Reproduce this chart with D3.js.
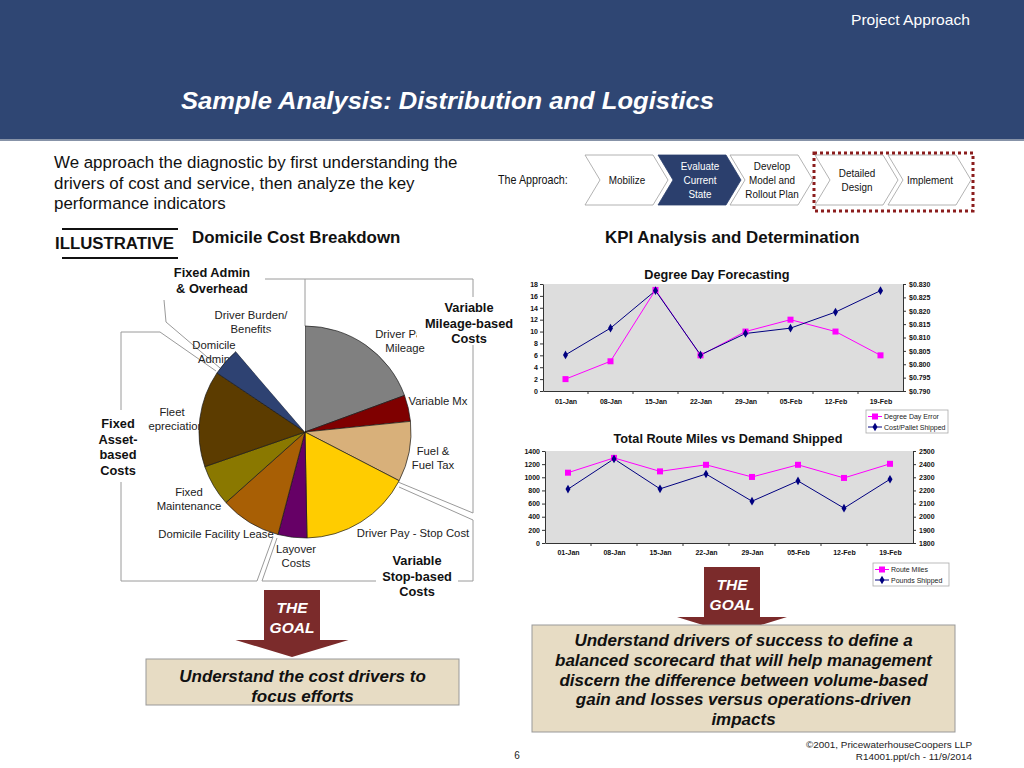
<!DOCTYPE html>
<html>
<head>
<meta charset="utf-8">
<script src="https://cdn.jsdelivr.net/npm/d3@7"></script>
<style>
body { margin: 0; background: #fff; }
svg { display: block; font-family: Arial, "Liberation Sans", sans-serif; }
</style>
</head>
<body>
<svg id="canvas" width="1024" height="768"></svg>
<script>
// pie data - share of domicile cost, clockwise from 12 o'clock
let cost_labels = ['Driver Pay - Mileage', 'Variable Mx', 'Fuel & Fuel Tax', 'Driver Pay - Stop Cost', 'Layover Costs',
    'Domicile Facility Lease', 'Fixed Maintenance', 'Fleet Depreciation', 'Domicile Admin', 'Driver Burden/ Benefits']
let cost_shares = [19.4, 4.0, 9.2, 17.1, 4.4, 9.3, 6.3, 14.7, 4.3, 11.3]
let cost_colors = ['#808080', '#7f0000', '#d8b07a', '#ffcc00', '#660066', '#a85f05', '#8a7800', '#5c3c00', '#2e4272', '#ffffff']

// KPI charts
let weeks = ['01-Jan', '08-Jan', '15-Jan', '22-Jan', '29-Jan', '05-Feb', '12-Feb', '19-Feb']
let degree_day_error = [2, 5, 17, 6, 10, 12, 10, 6]
let cost_per_pallet = [0.8035, 0.8135, 0.8275, 0.8035, 0.8115, 0.8135, 0.8195, 0.8275]
let route_miles = [1070, 1295, 1090, 1190, 1005, 1190, 990, 1205]
let pounds_shipped = [2210, 2440, 2212, 2325, 2118, 2272, 2065, 2285]
let dd_ticks = [0, 2, 4, 6, 8, 10, 12, 14, 16, 18]
let cost_ticks = [0.790, 0.795, 0.800, 0.805, 0.810, 0.815, 0.820, 0.825, 0.830]
let miles_ticks = [0, 200, 400, 600, 800, 1000, 1200, 1400]
let pounds_ticks = [1800, 1900, 2000, 2100, 2200, 2300, 2400, 2500]

let steps = ['Mobilize', 'Evaluate\nCurrent\nState', 'Develop\nModel and\nRollout Plan', 'Detailed\nDesign', 'Implement']

let canvas = d3.select('#canvas')
let narrow = '"Liberation Sans Narrow", "Arial Narrow", Arial, sans-serif'

// condensed text: squeeze horizontally since no narrow font is guaranteed
let narrowText = (parent, x, y, lines, size, lh, fill, anchor) => {
    let g = parent.append('g').attr('transform', `translate(${x},${y}) scale(0.86,1)`)
    let t = g.append('text').attr('text-anchor', anchor).attr('font-size', size).attr('fill', fill)
    lines.forEach((l, j) => t.append('tspan').attr('x', 0).attr('y', (j - (lines.length - 1) / 2) * lh).text(l))
    return t
}

// ---------- header ----------
canvas.append('rect').attr('x', 0).attr('y', 0).attr('width', 1024).attr('height', 139).attr('fill', '#2f4673')
canvas.append('rect').attr('x', 0).attr('y', 139).attr('width', 1024).attr('height', 2).attr('fill', '#8793a8')
canvas.append('text').attr('x', 970).attr('y', 25).attr('text-anchor', 'end')
    .attr('font-family', narrow).attr('font-size', 15).attr('fill', '#fff')
    .attr('textLength', 119).attr('lengthAdjust', 'spacingAndGlyphs')
    .text('Project Approach')
canvas.append('text').attr('x', 181).attr('y', 109)
    .attr('font-family', narrow).attr('font-size', 24).attr('font-weight', 'bold').attr('font-style', 'italic').attr('fill', '#fff')
    .attr('textLength', 533).attr('lengthAdjust', 'spacingAndGlyphs')
    .text('Sample Analysis: Distribution and Logistics')

// ---------- intro ----------
let intro = ['We approach the diagnostic by first understanding the', 'drivers of cost and service, then analyze the key', 'performance indicators']
canvas.append('g').selectAll('text').data(intro).enter().append('text')
    .attr('x', 54).attr('y', (d, i) => 168 + i * 20.5)
    .attr('font-size', 16.9).attr('fill', '#111')
    .text(d => d)

// ---------- approach chevrons ----------
narrowText(canvas, 498, 184, ['The Approach:'], 12.5, 14, '#111', 'start')
let chev_x = d3.scaleOrdinal().domain(steps).range([585, 658, 730, 815, 888])
let chev = (x) => {
    let y0 = 155, y1 = 205, yc = 180, w = 68, d = 15
    return [[x, y0], [x + w, y0], [x + w + d, yc], [x + w, y1], [x, y1], [x + d, yc]].map(p => p.join(',')).join(' ')
}
let chevG = canvas.append('g')
steps.forEach((s, i) => {
    let active = i === 1
    chevG.append('polygon').attr('points', chev(chev_x(s)))
        .attr('fill', active ? '#2b3f6d' : '#fff').attr('stroke', active ? '#2b3f6d' : '#a0a0a0').attr('stroke-width', 0.8)
    narrowText(chevG, chev_x(s) + 42, 184, s.split('\n'), 11.5, 14, active ? '#fff' : '#111', 'middle')
})
canvas.append('rect').attr('x', 814).attr('y', 153).attr('width', 159).attr('height', 58)
    .attr('fill', 'none').attr('stroke', '#8b1d1d').attr('stroke-width', 3).attr('stroke-dasharray', '3,3')

// ---------- section titles ----------
canvas.append('line').attr('x1', 62).attr('x2', 178).attr('y1', 229).attr('y2', 229).attr('stroke', '#111').attr('stroke-width', 2)
canvas.append('line').attr('x1', 62).attr('x2', 178).attr('y1', 258).attr('y2', 258).attr('stroke', '#111').attr('stroke-width', 2)
canvas.append('text').attr('x', 55).attr('y', 249).attr('font-size', 16.8).attr('font-weight', 'bold').attr('fill', '#111').text('ILLUSTRATIVE')
canvas.append('text').attr('x', 192).attr('y', 243).attr('font-size', 16.9).attr('font-weight', 'bold').attr('fill', '#111').text('Domicile Cost Breakdown')
canvas.append('text').attr('x', 605).attr('y', 243).attr('font-size', 16.9).attr('font-weight', 'bold').attr('fill', '#111').text('KPI Analysis and Determination')

// ---------- pie ----------
let cx = 305, cy = 432, radius = 106

// bracket lines
let brackets = [
    [[265, 279], [305, 279], [305, 326]],
    [[305, 279], [473, 279], [473, 513], [398, 482]],
    [[399, 487], [473, 520], [473, 581], [262, 581], [277, 538]],
    [[121, 410], [121, 332], [160, 332], [216, 371]],
    [[164, 300], [166, 322], [220, 368]],
    [[121, 482], [121, 581], [257, 581], [273, 537]]
]
canvas.append('g').selectAll('polyline').data(brackets).enter().append('polyline')
    .attr('points', d => d.map(p => p.join(',')).join(' '))
    .attr('fill', 'none').attr('stroke', '#9a9a9a').attr('stroke-width', 1)

// slice labels
let slice_text = [
    {t: ['Driver Pay -', 'Mileage'], x: 405, y: 338},
    {t: ['Variable Mx'], x: 438, y: 405},
    {t: ['Fuel &', 'Fuel Tax'], x: 433, y: 455},
    {t: ['Driver Pay - Stop Cost'], x: 413, y: 537},
    {t: ['Layover', 'Costs'], x: 296, y: 553},
    {t: ['Domicile Facility Lease'], x: 216, y: 538},
    {t: ['Fixed', 'Maintenance'], x: 189, y: 496},
    {t: ['Fleet', 'Depreciation'], x: 172, y: 416},
    {t: ['Domicile', 'Admin'], x: 214, y: 349},
    {t: ['Driver Burden/', 'Benefits'], x: 251, y: 319}
]
let labG = canvas.append('g')
slice_text.forEach(s => {
    let t = labG.append('text').attr('text-anchor', 'middle').attr('font-size', 11.3).attr('fill', '#222')
    s.t.forEach((l, j) => t.append('tspan').attr('x', s.x).attr('y', s.y + j * 14).text(l))
})

let pie = d3.pie().sort(null).value(d => d)
let arc = d3.arc().innerRadius(0).outerRadius(radius)
canvas.append('g').attr('transform', `translate(${cx},${cy})`)
    .selectAll('path').data(pie(cost_shares)).enter().append('path')
    .attr('d', arc)
    .attr('fill', (d, i) => cost_colors[i])
    .attr('stroke', (d, i) => i === cost_shares.length - 1 ? 'none' : '#1a1a1a')
    .attr('stroke-width', 0.7)

// group labels with white boxes
let groups = [
    {t: ['Fixed Admin', '& Overhead'], x: 212, y: 277, box: [166, 263, 96, 33]},
    {t: ['Variable', 'Mileage-based', 'Costs'], x: 469, y: 312, box: [417, 297, 104, 48]},
    {t: ['Fixed', 'Asset-', 'based', 'Costs'], x: 118, y: 428, box: [93, 415, 55, 62]},
    {t: ['Variable', 'Stop-based', 'Costs'], x: 417, y: 565, box: [376, 551, 82, 46]}
]
groups.forEach(gr => {
    canvas.append('rect').attr('x', gr.box[0]).attr('y', gr.box[1]).attr('width', gr.box[2]).attr('height', gr.box[3]).attr('fill', '#fff')
    let t = canvas.append('text').attr('text-anchor', 'middle').attr('font-size', 12.8).attr('font-weight', 'bold').attr('fill', '#111')
    gr.t.forEach((l, j) => t.append('tspan').attr('x', gr.x).attr('y', gr.y + j * 15.5).text(l))
})

// ---------- KPI line charts ----------
let drawKpi = (cfg) => {
    let g = canvas.append('g')
    let x = d3.scalePoint().domain(weeks).range([cfg.x0, cfg.x1]).padding(0.5)
    let band = d3.scaleBand().domain(weeks).range([cfg.x0, cfg.x1])
    let yl = d3.scaleLinear().domain(d3.extent(cfg.leftTicks)).range([cfg.y1, cfg.y0])
    let yr = d3.scaleLinear().domain(d3.extent(cfg.rightTicks)).range([cfg.y1, cfg.y0])

    g.append('text').attr('x', cfg.titleX).attr('y', cfg.titleY).attr('text-anchor', 'middle')
        .attr('font-size', 12.7).attr('font-weight', 'bold').attr('fill', '#111').text(cfg.title)
    g.append('rect').attr('x', cfg.x0).attr('y', cfg.y0).attr('width', cfg.x1 - cfg.x0).attr('height', cfg.y1 - cfg.y0).attr('fill', '#dddddd')

    let style = (a) => {
        a.attr('font-size', 7).attr('font-weight', 'bold').attr('font-family', 'Arial, "Liberation Sans", sans-serif')
        a.selectAll('path, line').attr('stroke', '#333')
        a.selectAll('text').attr('fill', '#111')
    }
    g.append('g').attr('transform', `translate(${cfg.x0},0)`)
        .call(d3.axisLeft(yl).tickValues(cfg.leftTicks).tickSize(3).tickSizeOuter(0).tickPadding(2).tickFormat(d3.format('d')))
        .call(style)
    g.append('g').attr('transform', `translate(${cfg.x1},0)`)
        .call(d3.axisRight(yr).tickValues(cfg.rightTicks).tickSize(3).tickSizeOuter(0).tickPadding(3).tickFormat(cfg.rightFmt))
        .call(style)
    g.append('g').attr('transform', `translate(0,${cfg.y1})`)
        .call(d3.axisBottom(x).tickSize(0).tickSizeOuter(0).tickPadding(cfg.xPad))
        .call(style)
    g.append('g').selectAll('line').data(weeks.slice(1)).enter().append('line')
        .attr('x1', d => band(d)).attr('x2', d => band(d)).attr('y1', cfg.y1).attr('y2', cfg.y1 + 3).attr('stroke', '#333')

    let lineL = d3.line().x((d, i) => x(weeks[i])).y(d => yl(d))
    let lineR = d3.line().x((d, i) => x(weeks[i])).y(d => yr(d))
    g.append('path').attr('d', lineL(cfg.leftData)).attr('fill', 'none').attr('stroke', '#ff00ff').attr('stroke-width', 1)
    g.append('path').attr('d', lineR(cfg.rightData)).attr('fill', 'none').attr('stroke', '#000080').attr('stroke-width', 1)
    g.append('g').selectAll('rect').data(cfg.leftData).enter().append('rect')
        .attr('x', (d, i) => x(weeks[i]) - 3).attr('y', d => yl(d) - 3).attr('width', 6).attr('height', 6).attr('fill', '#ff00ff')
    g.append('g').selectAll('path').data(cfg.rightData).enter().append('path')
        .attr('transform', (d, i) => `translate(${x(weeks[i])},${yr(d)})`)
        .attr('d', d3.symbol(d3.symbolDiamond, 22)).attr('fill', '#000080')

    // legend
    let lg = g.append('g').attr('transform', `translate(${cfg.legX},${cfg.legY})`)
    lg.append('rect').attr('width', cfg.legW).attr('height', 23).attr('fill', '#fff').attr('stroke', '#aaa').attr('stroke-width', 0.8)
    cfg.legend.forEach((name, i) => {
        let col = i === 0 ? '#ff00ff' : '#000080'
        let yy = 6.5 + i * 10.5
        lg.append('line').attr('x1', 2).attr('x2', 16).attr('y1', yy).attr('y2', yy).attr('stroke', col)
        if (i === 0) {
            lg.append('rect').attr('x', 6).attr('y', yy - 3).attr('width', 6).attr('height', 6).attr('fill', col)
        } else {
            lg.append('path').attr('transform', `translate(9,${yy})`).attr('d', d3.symbol(d3.symbolDiamond, 22)).attr('fill', col)
        }
        lg.append('text').attr('x', 18).attr('y', yy + 2.5).attr('font-size', 7).attr('fill', '#222').text(name)
    })
}

drawKpi({
    title: 'Degree Day Forecasting', titleX: 717, titleY: 279,
    x0: 543, x1: 903, y0: 284, y1: 391, xPad: 8,
    leftTicks: dd_ticks, rightTicks: cost_ticks, rightFmt: d3.format('$.3f'),
    leftData: degree_day_error, rightData: cost_per_pallet,
    legend: ['Degree Day Error', 'Cost/Pallet Shipped'], legX: 866, legY: 410, legW: 82
})
drawKpi({
    title: 'Total Route Miles vs Demand Shipped', titleX: 728, titleY: 443,
    x0: 545, x1: 913, y0: 451, y1: 543, xPad: 7,
    leftTicks: miles_ticks, rightTicks: pounds_ticks, rightFmt: d3.format('d'),
    leftData: route_miles, rightData: pounds_shipped,
    legend: ['Route Miles', 'Pounds Shipped'], legX: 873, legY: 563, legW: 76
})

// ---------- the goal ----------
let goal = (x, y, w, h, headW, headH) => {
    let cxx = x + w / 2
    canvas.append('polygon')
        .attr('points', [[x, y], [x + w, y], [x + w, y + h], [cxx + headW / 2, y + h], [cxx, y + h + headH], [cxx - headW / 2, y + h], [x, y + h]].map(p => p.join(',')).join(' '))
        .attr('fill', '#7b2b2b')
    let t = canvas.append('text').attr('text-anchor', 'middle').attr('font-size', 15.5).attr('font-weight', 'bold').attr('font-style', 'italic').attr('fill', '#fff')
    t.append('tspan').attr('x', cxx).attr('y', y + 23).text('THE')
    t.append('tspan').attr('x', cxx).attr('y', y + 43).text('GOAL')
}
goal(264, 590, 56, 50, 113, 17)
goal(704, 567, 56, 50, 110, 17)

let goalBox = (x, y, w, h, lines, y0, lh) => {
    canvas.append('rect').attr('x', x).attr('y', y).attr('width', w).attr('height', h)
        .attr('fill', '#e7dcc4').attr('stroke', '#999').attr('stroke-width', 1)
    let t = canvas.append('text').attr('text-anchor', 'middle').attr('font-size', 17).attr('font-weight', 'bold').attr('font-style', 'italic').attr('fill', '#111')
    lines.forEach((l, j) => t.append('tspan').attr('x', x + w / 2).attr('y', y0 + j * lh).text(l))
}
goalBox(146, 659, 313, 46, ['Understand the cost drivers to', 'focus efforts'], 682, 20)
goalBox(532, 625, 423, 107, ['Understand drivers of success to define a', 'balanced scorecard that will help management',
    'discern the difference between volume-based', 'gain and losses versus operations-driven', 'impacts'], 646, 19.8)

// ---------- footer ----------
canvas.append('text').attr('x', 517).attr('y', 759).attr('text-anchor', 'middle').attr('font-size', 10).attr('fill', '#222').text('6')
canvas.append('text').attr('x', 972).attr('y', 748).attr('text-anchor', 'end').attr('font-size', 9.9).attr('fill', '#222').text('©2001, PricewaterhouseCoopers LLP')
canvas.append('text').attr('x', 972).attr('y', 760).attr('text-anchor', 'end').attr('font-size', 9.9).attr('fill', '#222').text('R14001.ppt/ch - 11/9/2014')
</script>
</body>
</html>
